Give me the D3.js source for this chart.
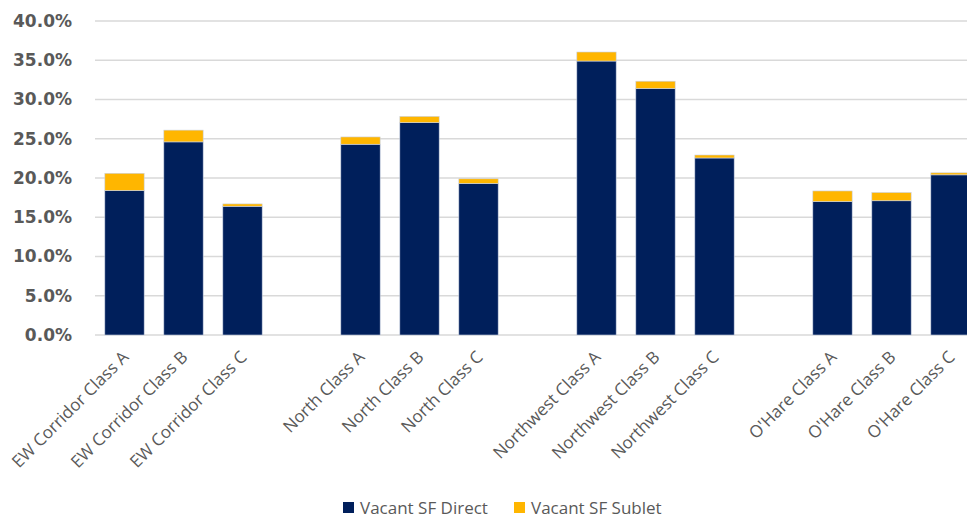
<!DOCTYPE html>
<html lang="en">
<head>
    <meta charset="UTF-8">
    <script src="https://d3js.org/d3.v7.min.js"></script>
    <style>
        body { margin: 0; background: #fff; }
        svg { display: block; }
    </style>
</head>
<body>
<div id="chart"></div>
<script>
// categories (empty strings are the spacer slots between groups)
var categories = [
    "EW Corridor Class A", "EW Corridor Class B", "EW Corridor Class C", "",
    "North Class A", "North Class B", "North Class C", " ",
    "Northwest Class A", "Northwest Class B", "Northwest Class C", "  ",
    "O'Hare Class A", "O'Hare Class B", "O'Hare Class C"
];
var direct = [18.4, 24.6, 16.4, null, 24.3, 27.05, 19.3, null, 34.9, 31.4, 22.55, null, 17.0, 17.1, 20.4];
var sublet = [2.2, 1.5, 0.3, null, 0.93, 0.8, 0.6, null, 1.15, 0.93, 0.38, null, 1.35, 1.05, 0.26];
var yTicks = [0, 5, 10, 15, 20, 25, 30, 35, 40];
var seriesNames = ["Vacant SF Direct", "Vacant SF Sublet"];
var colors = ["#001f5b", "#ffb600"];

var W = 967, H = 517;
var svg = d3.select("#chart").append("svg")
    .attr("width", W)
    .attr("height", H);

var x = d3.scaleBand()
    .domain(categories)
    .range([95, 980])
    .paddingInner(1/3)
    .paddingOuter(1/6);

var y = d3.scaleLinear()
    .domain([0, 40])
    .range([335, 21]);

// gridlines
svg.append("g")
    .selectAll("line")
    .data(yTicks)
    .enter().append("line")
        .attr("x1", 95)
        .attr("x2", W)
        .attr("y1", function(d) { return y(d); })
        .attr("y2", function(d) { return y(d); })
        .attr("stroke", "#d9d9d9")
        .attr("stroke-width", 1.5);

// y axis labels
var yAxis = svg.append("g")
    .attr("transform", "translate(80,0)")
    .call(d3.axisLeft(y).tickValues(yTicks).tickSize(0).tickPadding(8)
        .tickFormat(function(d) { return d.toFixed(1) + "%"; }));
yAxis.select(".domain").remove();
yAxis.selectAll("text")
    .attr("fill", "#595959")
    .style("font-family", "'DejaVu Sans', sans-serif")
    .style("font-weight", "bold")
    .style("font-size", "17px");

// stacked bars
var rows = categories.map(function(c, i) {
    return { cat: c, direct: direct[i], sublet: sublet[i] };
}).filter(function(d) { return d.direct != null; });

var stack = d3.stack().keys(["direct", "sublet"]);
var layers = stack(rows);

svg.append("g")
    .selectAll("g")
    .data(layers)
    .enter().append("g")
        .attr("fill", function(d, i) { return colors[i]; })
    .selectAll("rect")
    .data(function(d) { return d; })
    .enter().append("rect")
        .attr("x", function(d) { return x(d.data.cat); })
        .attr("width", x.bandwidth())
        .attr("y", function(d) { return y(d[1]); })
        .attr("height", function(d) { return y(d[0]) - y(d[1]); })
        .attr("stroke", "#c9d2e3")
        .attr("stroke-width", 0.6);

// x axis labels
svg.append("g")
    .selectAll("text")
    .data(rows)
    .enter().append("text")
        .attr("transform", function(d) {
            return "translate(" + (x(d.cat) + x.bandwidth() / 2 + 1) + ",354) rotate(-45)";
        })
        .attr("text-anchor", "end")
        .attr("dy", "0.35em")
        .attr("fill", "#595959")
        .style("font-family", "'Open Sans', sans-serif")
        .style("font-size", "17px")
        .text(function(d) { return d.cat; });

// legend
var legendX = [343, 514];
var legend = svg.append("g")
    .selectAll("g")
    .data(seriesNames)
    .enter().append("g")
        .attr("transform", function(d, i) { return "translate(" + legendX[i] + ",502)"; });
legend.append("rect")
    .attr("width", 11)
    .attr("height", 11)
    .attr("fill", function(d, i) { return colors[i]; });
legend.append("text")
    .attr("x", 17)
    .attr("y", 11.5)
    .attr("fill", "#595959")
    .style("font-family", "'Open Sans', sans-serif")
    .style("font-size", "17px")
    .text(function(d) { return d; });
</script>
</body>
</html>
